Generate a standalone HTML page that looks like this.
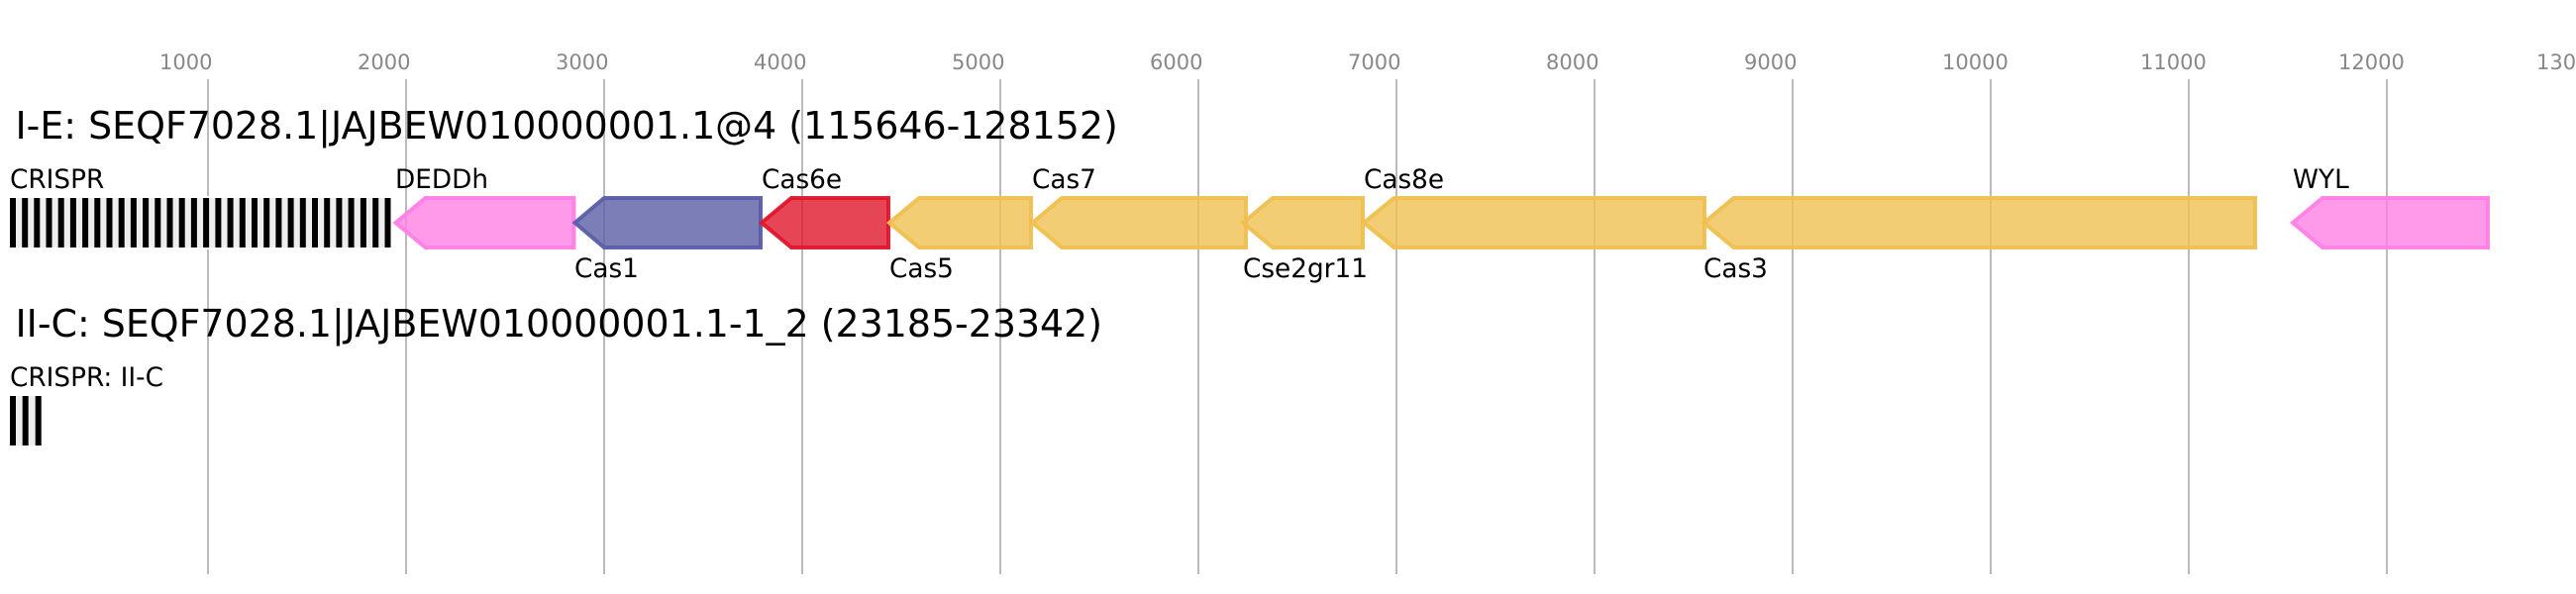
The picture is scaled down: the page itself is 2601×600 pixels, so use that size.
<!DOCTYPE html>
<html><head><meta charset="utf-8"><style>html,body{margin:0;padding:0;background:#fff}svg{display:block}text{font-family:"DejaVu Sans",sans-serif}</style></head>
<body>
<svg width="2601" height="600" viewBox="0 0 2601 600" xmlns="http://www.w3.org/2000/svg">
<g stroke="#bbb" stroke-width="2">
<line x1="210" y1="80" x2="210" y2="580"/><line x1="410" y1="80" x2="410" y2="580"/><line x1="610" y1="80" x2="610" y2="580"/><line x1="810" y1="80" x2="810" y2="580"/><line x1="1010" y1="80" x2="1010" y2="580"/><line x1="1210" y1="80" x2="1210" y2="580"/><line x1="1410" y1="80" x2="1410" y2="580"/><line x1="1610" y1="80" x2="1610" y2="580"/><line x1="1810" y1="80" x2="1810" y2="580"/><line x1="2010" y1="80" x2="2010" y2="580"/><line x1="2210" y1="80" x2="2210" y2="580"/><line x1="2410" y1="80" x2="2410" y2="580"/>
</g>
<g font-size="21" fill="#888">
<text x="161" y="70">1000</text><text x="361" y="70">2000</text><text x="561" y="70">3000</text><text x="761" y="70">4000</text><text x="961" y="70">5000</text><text x="1161" y="70">6000</text><text x="1361" y="70">7000</text><text x="1561" y="70">8000</text><text x="1761" y="70">9000</text><text x="1961" y="70">10000</text><text x="2161" y="70">11000</text><text x="2361" y="70">12000</text><text x="2561" y="70">13000</text>
</g>
<text x="15.5" y="140" font-size="37.9">I-E: SEQF7028.1|JAJBEW010000001.1@4 (115646-128152)</text>
<text x="15.5" y="340" font-size="37.9">II-C: SEQF7028.1|JAJBEW010000001.1-1_2 (23185-23342)</text>
<rect x="10" y="198" width="385" height="54" fill="#fff"/>
<rect x="10" y="200" width="384.5" height="50" fill="#eee"/>
<g fill="#000">
<rect x="10" y="200" width="6" height="50"/><rect x="22.2" y="200" width="6" height="50"/><rect x="34.3" y="200" width="6" height="50"/><rect x="46.5" y="200" width="6" height="50"/><rect x="58.7" y="200" width="6" height="50"/><rect x="70.9" y="200" width="6" height="50"/><rect x="83.1" y="200" width="6" height="50"/><rect x="95.3" y="200" width="6" height="50"/><rect x="107.5" y="200" width="6" height="50"/><rect x="119.7" y="200" width="6" height="50"/><rect x="131.9" y="200" width="6" height="50"/><rect x="144.1" y="200" width="6" height="50"/><rect x="156.3" y="200" width="6" height="50"/><rect x="168.5" y="200" width="6" height="50"/><rect x="180.7" y="200" width="6" height="50"/><rect x="192.9" y="200" width="6" height="50"/><rect x="205.1" y="200" width="6" height="50"/><rect x="217.4" y="200" width="6" height="50"/><rect x="229.6" y="200" width="6" height="50"/><rect x="241.8" y="200" width="6" height="50"/><rect x="254" y="200" width="6" height="50"/><rect x="266.2" y="200" width="6" height="50"/><rect x="278.4" y="200" width="6" height="50"/><rect x="290.6" y="200" width="6" height="50"/><rect x="302.8" y="200" width="6" height="50"/><rect x="315" y="200" width="6" height="50"/><rect x="327.2" y="200" width="6" height="50"/><rect x="339.4" y="200" width="6" height="50"/><rect x="351.6" y="200" width="6" height="50"/><rect x="363.9" y="200" width="6" height="50"/><rect x="376.2" y="200" width="6" height="50"/><rect x="388.5" y="200" width="6" height="50"/>
</g>
<rect x="10" y="400" width="31.7" height="50" fill="#eee"/>
<g fill="#000"><rect x="10" y="400" width="6" height="50"/><rect x="22.7" y="400" width="6" height="50"/><rect x="35.7" y="400" width="6" height="50"/></g>
<g stroke-width="4" fill-opacity=".8" stroke-opacity=".95">
<polygon points="399.5,225 429.5,200 579.5,200 579.5,250 429.5,250" fill="#ff7fe5" stroke="#ff7fe5"/>
<polygon points="580.5,225 610,200 768,200 768,250 610,250" fill="#5b5ea6" stroke="#5b5ea6"/>
<polygon points="769,225 799,200 897,200 897,250 799,250" fill="#e0162b" stroke="#e0162b"/>
<polygon points="898,225 928,200 1041,200 1041,250 928,250" fill="#efc050" stroke="#efc050"/>
<polygon points="1042.5,225 1072,200 1258,200 1258,250 1072,250" fill="#efc050" stroke="#efc050"/>
<polygon points="1255,225 1285,200 1376,200 1376,250 1285,250" fill="#efc050" stroke="#efc050"/>
<polygon points="1377,225 1407.5,200 1721,200 1721,250 1407.5,250" fill="#efc050" stroke="#efc050"/>
<polygon points="1720.5,225 1750.5,200 2277,200 2277,250 1750.5,250" fill="#efc050" stroke="#efc050"/>
<polygon points="2315,225 2345,200 2512,200 2512,250 2345,250" fill="#ff7fe5" stroke="#ff7fe5"/>
</g>
<g font-size="26.3" fill="#000">
<text x="10" y="190">CRISPR</text><text x="399" y="190">DEDDh</text><text x="580" y="280">Cas1</text><text x="769" y="190">Cas6e</text><text x="898" y="280">Cas5</text><text x="1042" y="190">Cas7</text><text x="1255" y="280">Cse2gr11</text><text x="1377" y="190">Cas8e</text><text x="1720" y="280">Cas3</text><text x="2315" y="190">WYL</text><text x="10" y="390">CRISPR: II-C</text>
</g>
</svg>
</body></html>
